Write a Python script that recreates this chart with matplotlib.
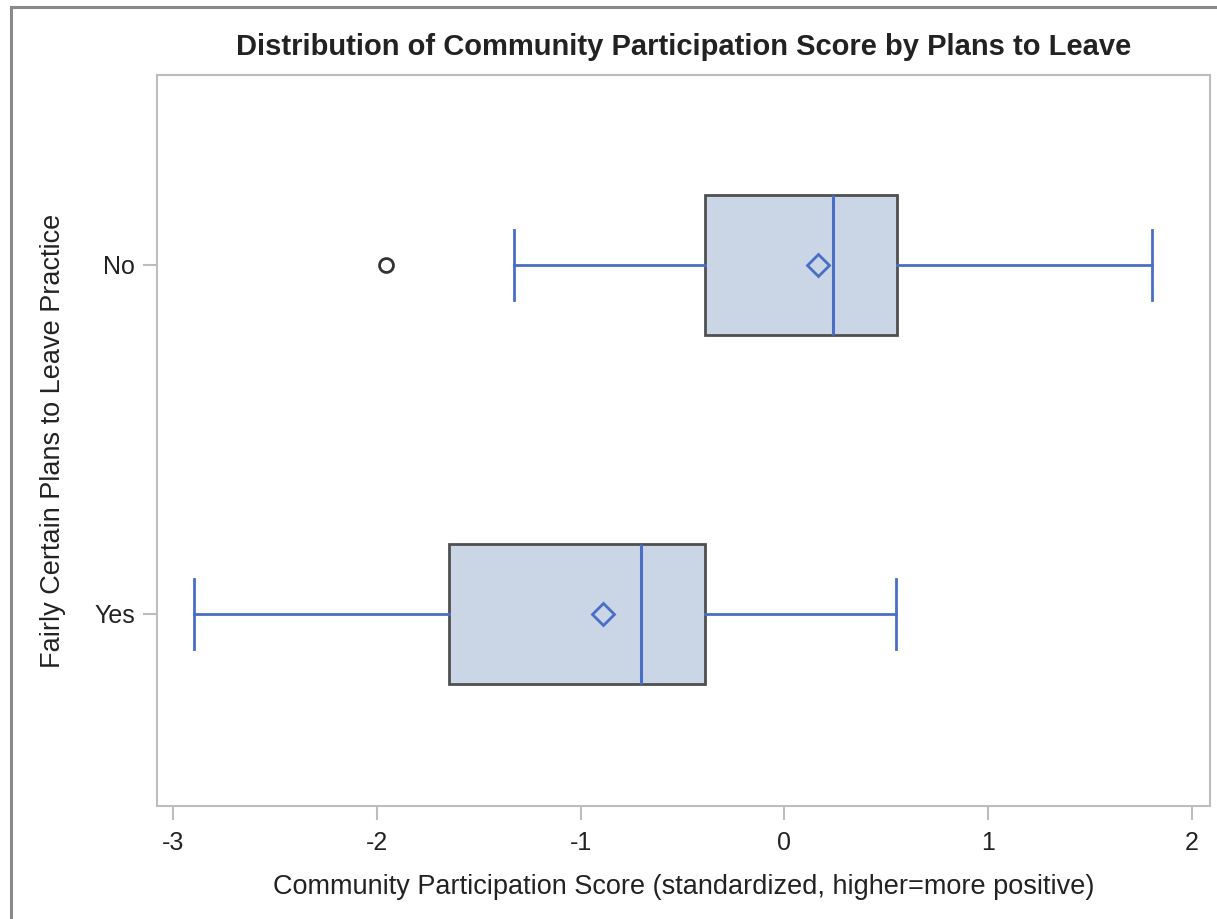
import matplotlib
matplotlib.use("Agg")
import matplotlib.pyplot as plt
from matplotlib.lines import Line2D

plt.rcParams['font.family'] = ['Liberation Sans', 'DejaVu Sans']

# Summary statistics per group
groups = ["No", "Yes"]
q1 = [-0.390, -1.646]
median = [0.240, -0.704]
q3 = [0.551, -0.389]
mean = [0.163, -0.889]
whisker_low = [-1.328, -2.898]
whisker_high = [1.804, 0.548]
outliers = [[-1.957], []]

box_fill = "#CAD5E6"
box_edge = "#4F4F4F"
blue = "#4A6EC4"
spine_grey = "#BDBDBD"

stats = []
for i, g in enumerate(groups):
    stats.append(dict(label=g, q1=q1[i], med=median[i], q3=q3[i], mean=mean[i],
                      whislo=whisker_low[i], whishi=whisker_high[i],
                      fliers=outliers[i]))

fig = plt.figure(figsize=(12.17, 9.19), dpi=100)
ax = fig.add_axes([157 / 1217, 1 - 806 / 919, (1210 - 157) / 1217, (806 - 75) / 919])

ax.bxp(stats, positions=[0, 1], orientation='horizontal', widths=0.401,
       patch_artist=True, showmeans=True, showfliers=True, capwidths=0.2,
       boxprops=dict(facecolor=box_fill, edgecolor=box_edge, linewidth=2),
       whiskerprops=dict(color=blue, linewidth=2),
       capprops=dict(color=blue, linewidth=2),
       medianprops=dict(color=blue, linewidth=2.2),
       meanprops=dict(marker='D', markersize=11, markerfacecolor='none',
                      markeredgecolor=blue, markeredgewidth=2),
       flierprops=dict(marker='o', markersize=10, markerfacecolor='none',
                       markeredgecolor='#333333', markeredgewidth=2))

ax.set_xlim(-3.081, 2.09)
ax.set_ylim(1.55, -0.544)
ax.set_xticks([-3, -2, -1, 0, 1, 2])
ax.set_xticklabels(["-3", "-2", "-1", "0", "1", "2"])
ax.set_yticks([0, 1])
ax.set_yticklabels(groups)

for s in ax.spines.values():
    s.set_color(spine_grey)
    s.set_linewidth(1.5)
ax.tick_params(axis='both', colors=spine_grey, labelcolor='#222222',
               labelsize=18, length=10, width=1.5)
ax.tick_params(axis='x', pad=8)
ax.tick_params(axis='y', pad=6)

ax.set_xlabel("Community Participation Score (standardized, higher=more positive)",
              fontsize=19.5, color='#222222', labelpad=14)
ax.set_ylabel("Fairly Certain Plans to Leave Practice", fontsize=19.5,
              color='#222222', labelpad=20)
ax.set_title("Distribution of Community Participation Score by Plans to Leave",
             fontsize=21, fontweight='bold', color='#222222', pad=14.5)

# outer border along the left and top edges
fig.add_artist(Line2D([11 / 1217, 11 / 1217], [0, 1 - 7 / 919],
                      transform=fig.transFigure, color='#8A8A8A', linewidth=2.2))
fig.add_artist(Line2D([11 / 1217, 1], [1 - 7 / 919, 1 - 7 / 919],
                      transform=fig.transFigure, color='#8A8A8A', linewidth=2.2))

fig.savefig("out.png", dpi=100)
